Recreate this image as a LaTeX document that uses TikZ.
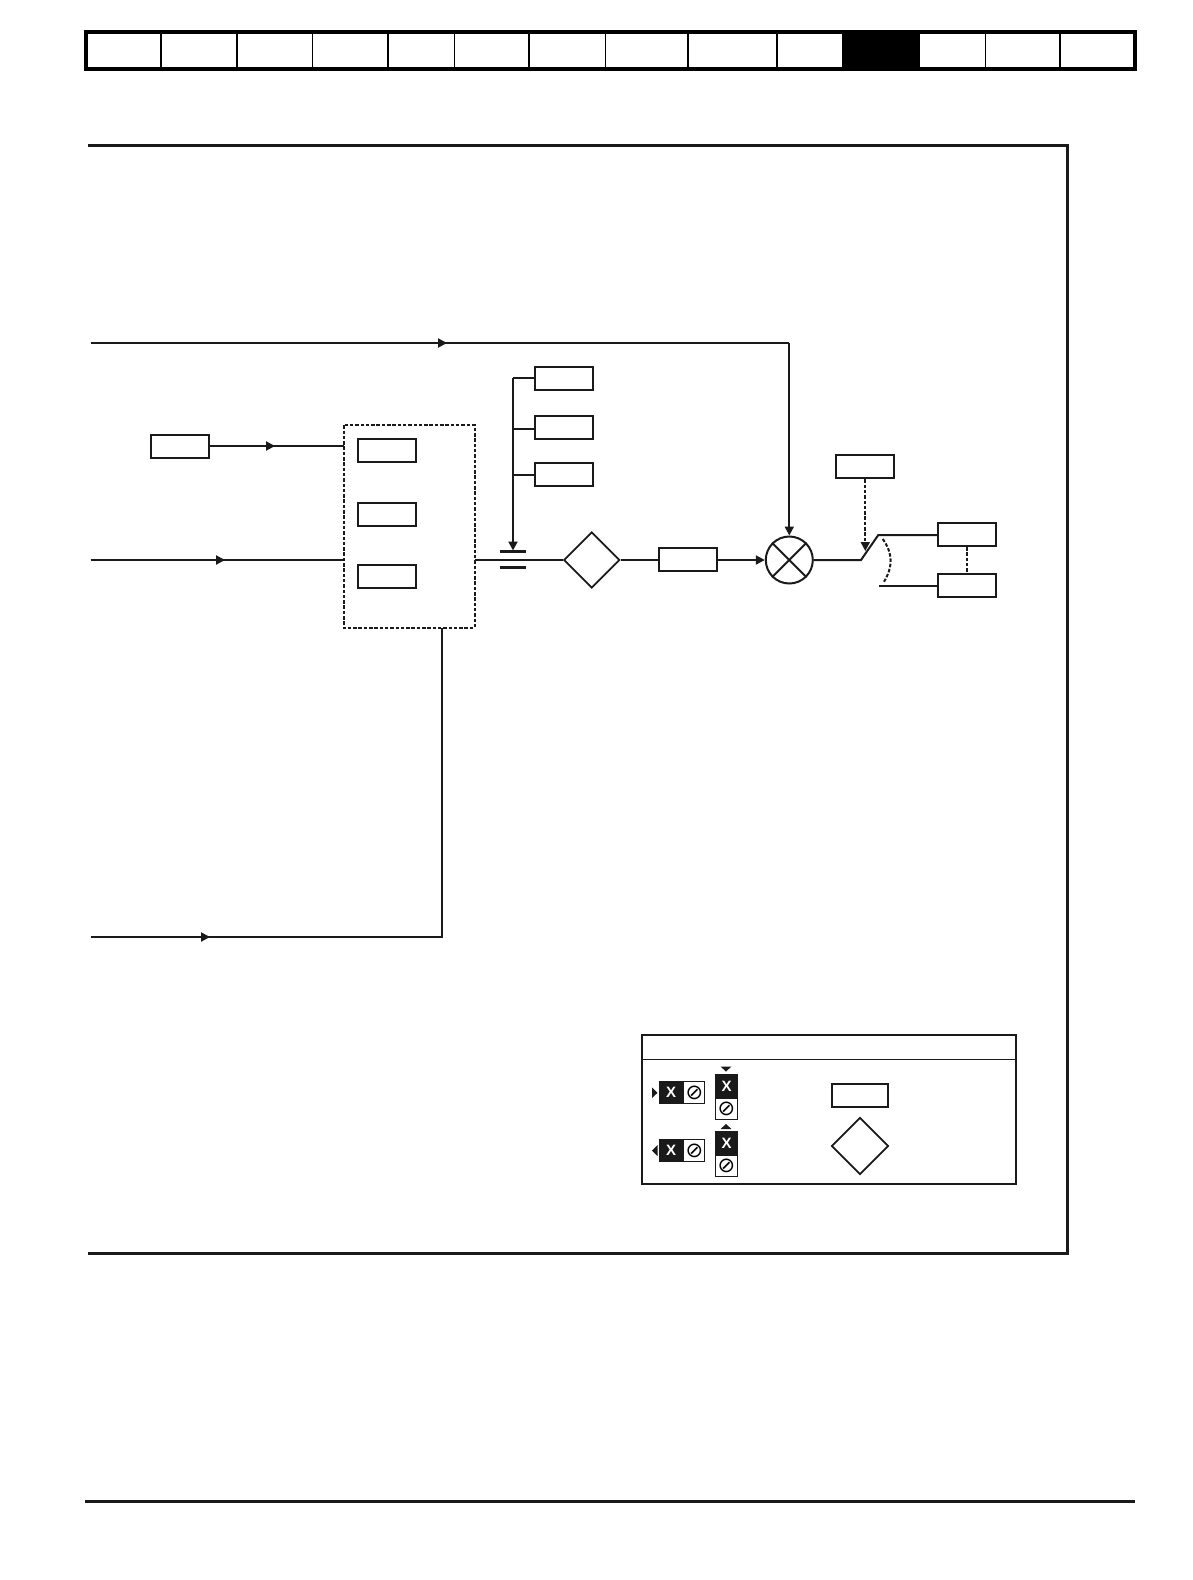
\documentclass[tikz,border=0pt]{standalone}
\usepackage{fontspec}
\setsansfont{Liberation Sans}
\newfontfamily\symfont{DejaVu Sans}
\usetikzlibrary{arrows.meta,shapes.geometric}
\definecolor{ink}{HTML}{1A1A1A}
\tikzset{
	wire/.style={ink, line width=2pt},
	flow/.style={wire, -{Triangle[length=9pt,width=9pt]}},
	link/.style={wire, dashed, dash pattern=on 3.5pt off 1.8pt},
	parbox/.style={draw=ink, line width=2pt, fill=white, minimum width=58pt, minimum height=23pt, inner sep=0pt},
	decision/.style={diamond, draw=ink, line width=1.8pt, fill=white, minimum width=56pt, minimum height=56pt, inner sep=0pt},
	keyx/.style={fill=ink, text=white, font=\sffamily\bfseries\fontsize{15}{15}\selectfont, inner sep=0pt},
	keylock/.style={draw=ink, line width=0.8pt, fill=white, font=\symfont\fontsize{21}{21}\selectfont, inner sep=0pt},
}
\begin{document}
\begin{tikzpicture}[x=1pt, y=-1pt]

	\useasboundingbox (0,0) rectangle (1192,1580);

	% tabs along the top
	\fill[black] (843,32) rectangle (919,69);
	\draw[black, line width=4pt] (86,32) rectangle (1135,69);
	\foreach \tabx in {161,237,312.5,388,454.5,529,605.5,688,777,843,919,985.5,1060}
		\draw[black, line width=1.2pt] (\tabx,30) -- (\tabx,69);

	% page frame, open on the left
	\draw[ink, line width=3pt] (88,145.5) -- (1067.5,145.5) -- (1067.5,1253.5) -- (88,1253.5);
	\draw[ink, line width=3pt] (85,1501) -- (1135,1501);

	% main row
	\node[circle, draw=ink, line width=2pt, minimum size=47pt, inner sep=0pt] (mult) at (789.3,560) {};
	\draw[wire] (mult.45) -- (mult.225) (mult.135) -- (mult.315);

	\node[parbox] (rate) at (687.5,559.3) {};
	\node[decision] (gate) at (591.7,560) {};

	\node[parbox] (refa) at (564,378) {};
	\node[parbox] (refb) at (564,427) {};
	\node[parbox] (refc) at (564,474.5) {};

	\draw[draw=ink, line width=1.8pt, dashed, dash pattern=on 3.5pt off 1.8pt] (343.6,425.2) rectangle (474.6,627.7);
	\node[minimum width=131pt, minimum height=202.5pt, inner sep=0pt, outer sep=0pt] (group) at (409.1,526.5) {};
	\node[parbox] (ina) at (387.2,450) {};
	\node[parbox] (inb) at (387.2,514.4) {};
	\node[parbox] (inc) at (387.2,576.4) {};
	\node[parbox] (src) at (180,446) {};

	\node[parbox] (sel) at (865.3,466.8) {};
	\node[parbox] (outa) at (967,534.5) {};
	\node[parbox] (outb) at (967,585.2) {};

	% free ends and points on the wires
	\coordinate (feedl) at (90.7,343);
	\coordinate (feedm) at (447,343);
	\coordinate (feedr) at (789.3,343);
	\coordinate (srcm) at (275,446);
	\coordinate (grpa) at (343.6,446);
	\coordinate (rowl) at (90.7,560);
	\coordinate (rowm) at (225,560);
	\coordinate (grpb) at (343.6,560);
	\coordinate (grpc) at (474.6,560);
	\coordinate (lowl) at (90.7,937);
	\coordinate (lowm) at (210,937);
	\coordinate (lowr) at (441.5,937);
	\coordinate (grpd) at (441.5,627.7);
	\coordinate (bus) at (513,378);
	\coordinate (busb) at (513,428.5);
	\coordinate (busc) at (513,474.5);
	\coordinate (bust) at (513,550.5);
	\coordinate (swa) at (861,560);
	\coordinate (swb) at (878.3,535);
	\coordinate (swc) at (879,585.5);
	\coordinate (swt) at (865.3,551);

	\draw[wire] (feedl) -- (feedr);
	\draw[flow] (feedl) -- (feedm);
	\draw[flow] (feedr) -- (mult.north);

	\draw[wire] (src) -- (grpa);
	\draw[flow] (src) -- (srcm);
	\draw[wire] (rowl) -- (grpb);
	\draw[flow] (rowl) -- (rowm);
	\draw[wire] (lowl) -- (lowr) -- (grpd);
	\draw[flow] (lowl) -- (lowm);

	\draw[wire] (refa.west) -- (bus);
	\draw[wire] (refb.west |- busb) -- (busb);
	\draw[wire] (refc.west) -- (busc);
	\draw[flow] (bus) -- (bust);

	\draw[wire] (grpc) -- (gate.west);
	\fill[ink] (500,550.3) rectangle (526,553.3);
	\fill[ink] (500,565.5) rectangle (526,568.5);
	\draw[wire] (gate.east) -- (rate.west |- gate.east);
	\draw[flow] (rate.east |- gate.east) -- (mult.west);

	\draw[wire] (mult.east) -- (swa) -- (swb) -- (outa.west |- swb);
	\draw[wire] (swc) -- (outb.west |- swc);
	\draw[link] (sel.south) -- (865.3,543);
	\draw[wire, solid, -{Triangle[length=9pt,width=9pt]}] (865.3,543) -- (swt);
	\draw[link] (outa.south) -- (outb.north);
	\draw[link] (882.7,539) .. controls (893,553) and (893,567) .. (884,581.7);

	% key
	\draw[ink, line width=2pt, fill=white] (642,1035.3) rectangle (1016,1183.7);
	\draw[ink, line width=1.5pt] (642,1059.3) -- (1016,1059.3);

	\foreach \keyname/\keyy in {hp/1092.8, hq/1150.5} {
		\node[keyx, minimum width=24pt, minimum height=23pt] (\keyname x) at (671.2,\keyy) {X};
		\node[keylock, minimum width=21pt, minimum height=22pt, anchor=west] (\keyname l) at (\keyname x.east) {⊘};
	}
	\foreach \keyname/\keyy in {vp/1086, vq/1143} {
		\node[keyx, minimum width=23pt, minimum height=24pt] (\keyname x) at (726.5,\keyy) {X};
		\node[keylock, minimum width=22pt, minimum height=21pt, anchor=north] (\keyname l) at (\keyname x.south) {⊘};
	}
	\fill[ink] (652,1087.5) -- (657.5,1092.8) -- (652,1098) -- cycle;
	\fill[ink] (657.5,1145) -- (652,1150.5) -- (657.5,1156) -- cycle;
	\fill[ink] (720.5,1066.5) -- (731.5,1066.5) -- (726,1071.5) -- cycle;
	\fill[ink] (720.5,1129) -- (731.5,1129) -- (726,1124) -- cycle;

	\node[parbox, minimum width=56pt] (keybox) at (860,1095.3) {};
	\node[decision, minimum width=57pt, minimum height=57pt] (keygate) at (860,1146) {};

\end{tikzpicture}
\end{document}
